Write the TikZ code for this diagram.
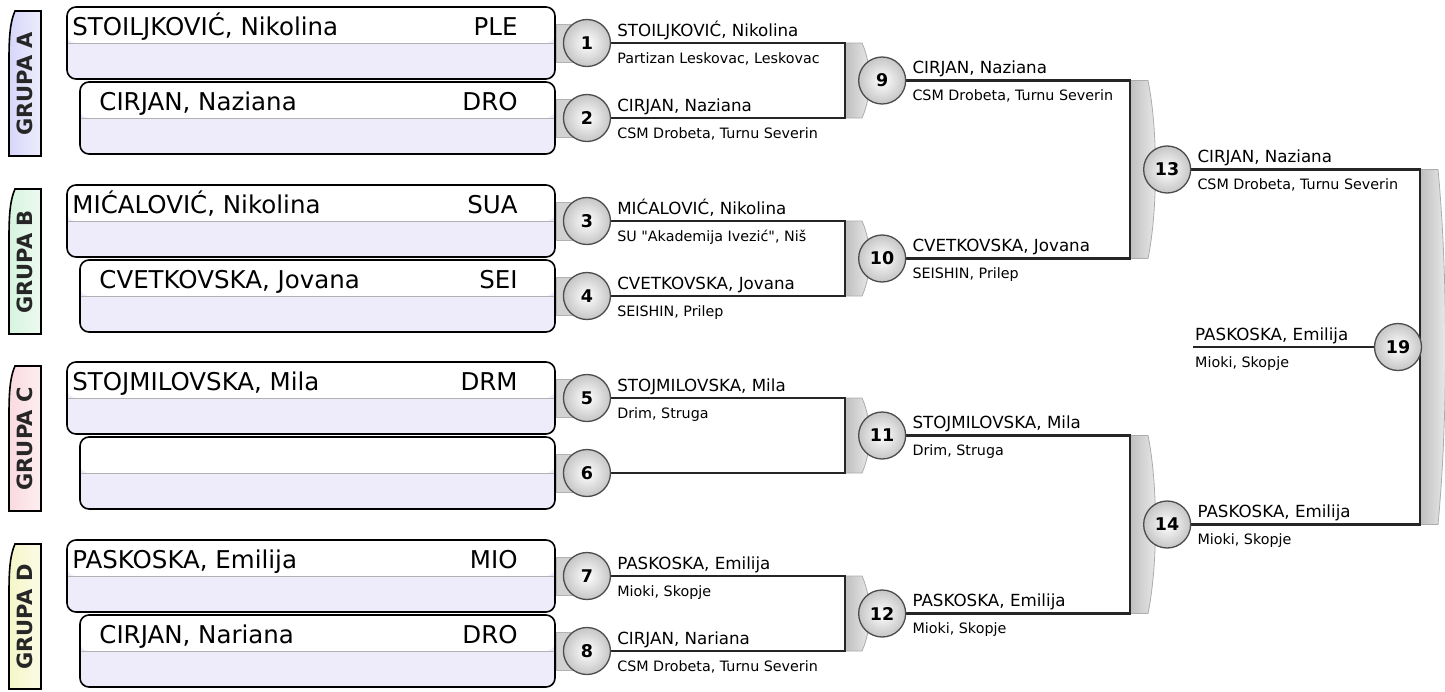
\documentclass[tikz,border=0pt]{standalone}
\usepackage{fontspec}
\setmainfont{DejaVu Sans}[Ligatures=TeXOff]
\usetikzlibrary{positioning,calc,backgrounds}
\definecolor{boxlow}{RGB}{238,235,250}
\definecolor{grpa}{RGB}{214,214,250}
\definecolor{grpb}{RGB}{214,244,222}
\definecolor{grpc}{RGB}{250,218,224}
\definecolor{grpd}{RGB}{246,246,200}
\tikzset{
  plr/.style={draw,line width=1.6pt,rounded corners=9pt,fill=boxlow,minimum height=72pt,inner sep=0pt,
    path picture={\fill[white] (path picture bounding box.north west) rectangle (path picture bounding box.east);
      \draw[gray!60,line width=1pt] (path picture bounding box.west) -- (path picture bounding box.east);}},
  pn/.style={font=\fontsize{24.5}{28}\selectfont,inner sep=0pt},
  mt/.style={circle,draw=gray!60!black,line width=1.3pt,inner color=white,outer color=gray!45,minimum size=47pt,inner sep=0pt,font=\bfseries\fontsize{17.5}{17.5}\selectfont},
  lbn/.style={font=\fontsize{16.7}{19}\selectfont,inner sep=0pt},
  lbc/.style={font=\fontsize{14.3}{17}\selectfont,inner sep=0pt},
  ln/.style={draw=black!85,line width=2.5pt},
  bar/.style={left color=gray!50,right color=gray!15,draw=gray!65,line width=.8pt},
  stub/.style={fill=gray!35,draw=gray!60,line width=.6pt},
  tab/.style={draw,line width=1.6pt},
  grp/.style={font=\bfseries\fontsize{21}{21}\selectfont,text=black!85,inner sep=0pt},
}
\begin{document}
\begin{tikzpicture}[x=1pt,y=-1pt]
  \useasboundingbox (0,0) rectangle (1445,691);
  \path[tab,left color=grpa,right color=grpa!45!white] (41,11) -- (15,11) .. controls (10,22) and (9,38) .. (9,60) -- (9,156) -- (41,156) -- cycle;
  \path[tab,left color=grpb,right color=grpb!45!white] (41,189) -- (15,189) .. controls (10,200) and (9,216) .. (9,238) -- (9,334) -- (41,334) -- cycle;
  \path[tab,left color=grpc,right color=grpc!45!white] (41,366) -- (15,366) .. controls (10,377) and (9,393) .. (9,415) -- (9,511) -- (41,511) -- cycle;
  \path[tab,left color=grpd,right color=grpd!45!white] (41,544) -- (15,544) .. controls (10,555) and (9,571) .. (9,593) -- (9,689) -- (41,689) -- cycle;
  \node[grp,rotate=90] (ga) at (25,84) {GRUPA A};
  \node[grp,rotate=90] (gb) at (25,262) {GRUPA B};
  \node[grp,rotate=90] (gc) at (25,439) {GRUPA C};
  \node[grp,rotate=90] (gd) at (25,617) {GRUPA D};

  \node[plr,minimum width=488pt] (a1) at (311,43) {};
  \node[plr,minimum width=475pt] (a2) at (317.5,118) {};
  \node[plr,minimum width=488pt] (b1) at (311,221) {};
  \node[plr,minimum width=475pt] (b2) at (317.5,296) {};
  \node[plr,minimum width=488pt] (c1) at (311,398) {};
  \node[plr,minimum width=475pt] (c2) at (317.5,473) {};
  \node[plr,minimum width=488pt] (d1) at (311,576) {};
  \node[plr,minimum width=475pt] (d2) at (317.5,651) {};
  \node[pn,above right=8pt and 6pt of a1.west,anchor=base west] (a1n) {STOILJKOVIĆ, Nikolina};
  \node[pn,above left=8pt and 38pt of a1.east,anchor=base east] (a1k) {PLE};
  \node[pn,above right=8pt and 20pt of a2.west,anchor=base west] (a2n) {CIRJAN, Naziana};
  \node[pn,above left=8pt and 38pt of a2.east,anchor=base east] (a2k) {DRO};
  \node[pn,above right=8pt and 6pt of b1.west,anchor=base west] (b1n) {MIĆALOVIĆ, Nikolina};
  \node[pn,above left=8pt and 38pt of b1.east,anchor=base east] (b1k) {SUA};
  \node[pn,above right=8pt and 20pt of b2.west,anchor=base west] (b2n) {CVETKOVSKA, Jovana};
  \node[pn,above left=8pt and 38pt of b2.east,anchor=base east] (b2k) {SEI};
  \node[pn,above right=8pt and 6pt of c1.west,anchor=base west] (c1n) {STOJMILOVSKA, Mila};
  \node[pn,above left=8pt and 38pt of c1.east,anchor=base east] (c1k) {DRM};
  \node[pn,above right=8pt and 6pt of d1.west,anchor=base west] (d1n) {PASKOSKA, Emilija};
  \node[pn,above left=8pt and 38pt of d1.east,anchor=base east] (d1k) {MIO};
  \node[pn,above right=8pt and 20pt of d2.west,anchor=base west] (d2n) {CIRJAN, Nariana};
  \node[pn,above left=8pt and 38pt of d2.east,anchor=base east] (d2k) {DRO};

  \node[mt,right=7pt of a1] (m1) {1};
  \node[mt,right=7pt of a2] (m2) {2};
  \node[mt,right=7pt of b1] (m3) {3};
  \node[mt,right=7pt of b2] (m4) {4};
  \node[mt,right=7pt of c1] (m5) {5};
  \node[mt,right=7pt of c2] (m6) {6};
  \node[mt,right=7pt of d1] (m7) {7};
  \node[mt,right=7pt of d2] (m8) {8};
  \coordinate (j9) at (845,80.5);
  \coordinate (j10) at (845,258.5);
  \coordinate (j11) at (845,435.5);
  \coordinate (j12) at (845,613.5);
  \coordinate (j13) at (1130,169.5);
  \coordinate (j14) at (1130,524.5);
  \coordinate (j19) at (1420,347);
  \coordinate (f19) at (1193,347);
  \node[mt,right=13pt of j9] (m9) {9};
  \node[mt,right=13pt of j10] (m10) {10};
  \node[mt,right=13pt of j11] (m11) {11};
  \node[mt,right=13pt of j12] (m12) {12};
  \node[mt,right=13pt of j13] (m13) {13};
  \node[mt,right=13pt of j14] (m14) {14};
  \node[mt] (m19) at (1398,347) {19};

  \begin{scope}[on background layer]
    \path[stub] ([yshift=19pt]a1.east) rectangle ([xshift=16pt,yshift=-19pt]a1.east);
    \path[stub] ([yshift=19pt]a2.east) rectangle ([xshift=16pt,yshift=-19pt]a2.east);
    \path[stub] ([yshift=19pt]b1.east) rectangle ([xshift=16pt,yshift=-19pt]b1.east);
    \path[stub] ([yshift=19pt]b2.east) rectangle ([xshift=16pt,yshift=-19pt]b2.east);
    \path[stub] ([yshift=19pt]c1.east) rectangle ([xshift=16pt,yshift=-19pt]c1.east);
    \path[stub] ([yshift=19pt]c2.east) rectangle ([xshift=16pt,yshift=-19pt]c2.east);
    \path[stub] ([yshift=19pt]d1.east) rectangle ([xshift=16pt,yshift=-19pt]d1.east);
    \path[stub] ([yshift=19pt]d2.east) rectangle ([xshift=16pt,yshift=-19pt]d2.east);
    \path[bar] (845,43) -- (862,43) .. controls (872,65) and (872,96) .. (862,118) -- (845,118) -- cycle;
    \path[bar] (845,221) -- (862,221) .. controls (872,243) and (872,274) .. (862,296) -- (845,296) -- cycle;
    \path[bar] (845,398) -- (862,398) .. controls (872,420) and (872,451) .. (862,473) -- (845,473) -- cycle;
    \path[bar] (845,576) -- (862,576) .. controls (872,598) and (872,629) .. (862,651) -- (845,651) -- cycle;
    \path[bar] (1130,80.5) -- (1148,80.5) .. controls (1158,130) and (1158,209) .. (1148,258.5) -- (1130,258.5) -- cycle;
    \path[bar] (1130,435.5) -- (1148,435.5) .. controls (1158,485) and (1158,564) .. (1148,613.5) -- (1130,613.5) -- cycle;
    \path[bar] (1420,169.5) -- (1438,169.5) .. controls (1448,275) and (1448,419) .. (1438,524.5) -- (1420,524.5) -- cycle;
    \draw[ln] (m1.east) -| (j9) |- (m2.east);
    \draw[ln] (m3.east) -| (j10) |- (m4.east);
    \draw[ln] (m5.east) -| (j11) |- (m6.east);
    \draw[ln] (m7.east) -| (j12) |- (m8.east);
    \draw[ln] (m9.east) -| (j13) |- (m10.east);
    \draw[ln] (m11.east) -| (j14) |- (m12.east);
    \draw[ln] (m13.east) -| (j19) |- (m14.east);
    \draw[ln] (f19) -- (m19.west);
  \end{scope}

  \node[lbn,above right=7pt and 6pt of m1.east,anchor=base west] (l1n) {STOILJKOVIĆ, Nikolina};
  \node[lbc,below right=20pt and 6pt of m1.east,anchor=base west] (l1c) {Partizan Leskovac, Leskovac};
  \node[lbn,above right=7pt and 6pt of m2.east,anchor=base west] (l2n) {CIRJAN, Naziana};
  \node[lbc,below right=20pt and 6pt of m2.east,anchor=base west] (l2c) {CSM Drobeta, Turnu Severin};
  \node[lbn,above right=7pt and 6pt of m3.east,anchor=base west] (l3n) {MIĆALOVIĆ, Nikolina};
  \node[lbc,below right=20pt and 6pt of m3.east,anchor=base west] (l3c) {SU "Akademija Ivezić", Niš};
  \node[lbn,above right=7pt and 6pt of m4.east,anchor=base west] (l4n) {CVETKOVSKA, Jovana};
  \node[lbc,below right=20pt and 6pt of m4.east,anchor=base west] (l4c) {SEISHIN, Prilep};
  \node[lbn,above right=7pt and 6pt of m5.east,anchor=base west] (l5n) {STOJMILOVSKA, Mila};
  \node[lbc,below right=20pt and 6pt of m5.east,anchor=base west] (l5c) {Drim, Struga};
  \node[lbn,above right=7pt and 6pt of m7.east,anchor=base west] (l7n) {PASKOSKA, Emilija};
  \node[lbc,below right=20pt and 6pt of m7.east,anchor=base west] (l7c) {Mioki, Skopje};
  \node[lbn,above right=7pt and 6pt of m8.east,anchor=base west] (l8n) {CIRJAN, Nariana};
  \node[lbc,below right=20pt and 6pt of m8.east,anchor=base west] (l8c) {CSM Drobeta, Turnu Severin};
  \node[lbn,above right=7pt and 6pt of m9.east,anchor=base west] (l9n) {CIRJAN, Naziana};
  \node[lbc,below right=20pt and 6pt of m9.east,anchor=base west] (l9c) {CSM Drobeta, Turnu Severin};
  \node[lbn,above right=7pt and 6pt of m10.east,anchor=base west] (l10n) {CVETKOVSKA, Jovana};
  \node[lbc,below right=20pt and 6pt of m10.east,anchor=base west] (l10c) {SEISHIN, Prilep};
  \node[lbn,above right=7pt and 6pt of m11.east,anchor=base west] (l11n) {STOJMILOVSKA, Mila};
  \node[lbc,below right=20pt and 6pt of m11.east,anchor=base west] (l11c) {Drim, Struga};
  \node[lbn,above right=7pt and 6pt of m12.east,anchor=base west] (l12n) {PASKOSKA, Emilija};
  \node[lbc,below right=20pt and 6pt of m12.east,anchor=base west] (l12c) {Mioki, Skopje};
  \node[lbn,above right=7pt and 6pt of m13.east,anchor=base west] (l13n) {CIRJAN, Naziana};
  \node[lbc,below right=20pt and 6pt of m13.east,anchor=base west] (l13c) {CSM Drobeta, Turnu Severin};
  \node[lbn,above right=7pt and 6pt of m14.east,anchor=base west] (l14n) {PASKOSKA, Emilija};
  \node[lbc,below right=20pt and 6pt of m14.east,anchor=base west] (l14c) {Mioki, Skopje};
  \node[lbn,above right=7pt and 2pt of f19,anchor=base west] (l19n) {PASKOSKA, Emilija};
  \node[lbc,below right=20pt and 2pt of f19,anchor=base west] (l19c) {Mioki, Skopje};
\end{tikzpicture}
\end{document}
